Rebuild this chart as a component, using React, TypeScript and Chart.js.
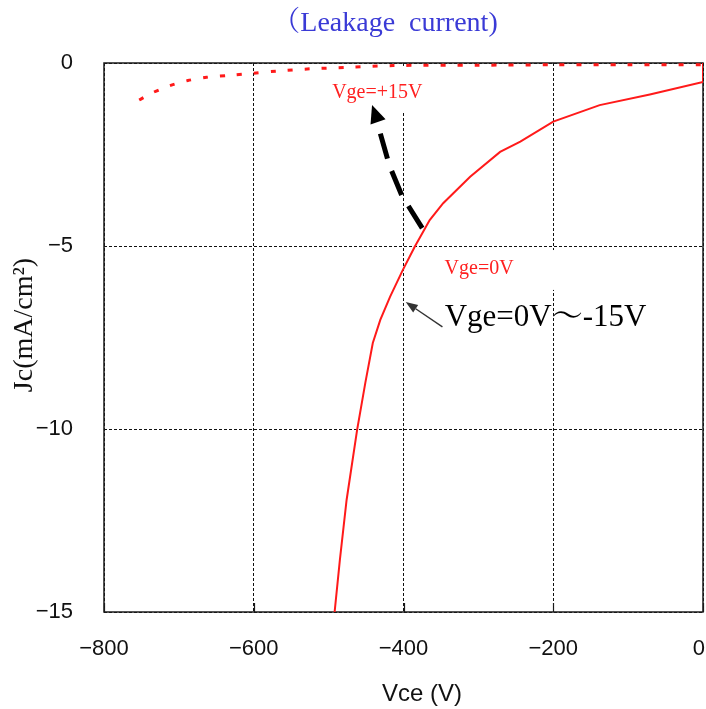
import React, { useEffect, useRef } from "react";
import { Chart, registerables } from "chart.js";

Chart.register(...registerables);

// ---- axes ----
const xTicks = [-800, -600, -400, -200, 0];
const yTicks = [0, -5, -10, -15];

// ---- Vge = 0V .. -15V curve (solid) ----
const vge0V = [0, 0, -71, -138, -200, -244, -271, -311, -347, -365, -385, -401, -418, -431, -441, -451, -462, -476, -485, -492];
const vge0Jc = [0, -0.52, -0.86, -1.15, -1.6, -2.15, -2.43, -3.11, -3.83, -4.29, -5.02, -5.66, -6.39, -7.02, -7.65, -8.74, -10.03, -11.94, -13.58, -15.0];

// ---- Vge = +15V curve (dotted) ----
const vge15V = [-753, -735, -712, -688, -663, -628, -601, -569, -525, -476, -414, -300, -200, -100, 0];
const vge15Jc = [-1.01, -0.81, -0.62, -0.48, -0.39, -0.33, -0.28, -0.22, -0.16, -0.12, -0.07, -0.06, -0.05, -0.05, -0.05];

// ---- annotation anchors (data units) ----
const sweepPathV = [-375, -402, -419, -433, -434];
const sweepPathJc = [-4.51, -3.63, -2.79, -1.78, -1.61];
const sweepTip = { v: -442, jc: -1.15 };
const pointerTail = { v: -348, jc: -7.21 };
const pointerTip = { v: -397, jc: -6.53 };

const SERIF = "'Liberation Serif', 'Times New Roman', 'Noto Serif CJK JP', 'Noto Sans CJK JP', serif";
const SANS = "'Liberation Sans', Arial, sans-serif";

const minus = (v: number) => String(v).replace("-", "\u2212");

function arrowHead(ctx: CanvasRenderingContext2D, bx: number, by: number, tx: number, ty: number, w: number) {
  const dx = tx - bx, dy = ty - by;
  const len = Math.hypot(dx, dy) || 1;
  const nx = -dy / len, ny = dx / len;
  ctx.beginPath();
  ctx.moveTo(tx, ty);
  ctx.lineTo(bx + nx * w / 2, by + ny * w / 2);
  ctx.lineTo(bx - nx * w / 2, by - ny * w / 2);
  ctx.closePath();
  ctx.fill();
}

const decor = {
  id: "decor",
  beforeDatasetsDraw(chart: any) {
    const { ctx, chartArea: a, scales } = chart;
    const x = scales.x, y = scales.y;
    ctx.save();
    // white label backgrounds hiding grid lines
    ctx.fillStyle = "#ffffff";
    const boxes = [
      { v1: -505, v2: -365, j1: -0.08, j2: -1.34 },
      { v1: -351, v2: -191, j1: -5.11, j2: -6.2 },
    ];
    for (const b of boxes) {
      const x1 = x.getPixelForValue(b.v1), x2 = x.getPixelForValue(b.v2);
      const y1 = y.getPixelForValue(b.j1), y2 = y.getPixelForValue(b.j2);
      ctx.fillRect(x1, y1, x2 - x1, y2 - y1);
    }
    // frame
    ctx.strokeStyle = "#1a1a1a";
    ctx.lineWidth = 1.5;
    ctx.strokeRect(a.left, a.top, a.right - a.left, a.bottom - a.top);
    // inner tick marks on bottom axis
    ctx.lineWidth = 1.2;
    for (const v of xTicks) {
      const px = Math.round(x.getPixelForValue(v)) + 0.5;
      ctx.beginPath();
      ctx.moveTo(px, a.bottom);
      ctx.lineTo(px, a.bottom - 9);
      ctx.stroke();
    }
    ctx.restore();
  },
  afterDatasetsDraw(chart: any) {
    const { ctx, scales } = chart;
    const x = scales.x, y = scales.y;
    const P = (v: number, j: number) => [x.getPixelForValue(v), y.getPixelForValue(j)];
    ctx.save();
    // thick dashed sweep arrow
    ctx.strokeStyle = "#000";
    ctx.fillStyle = "#000";
    ctx.lineWidth = 5;
    ctx.setLineDash([26, 13]);
    ctx.beginPath();
    sweepPathV.forEach((v, i) => {
      const [px, py] = P(v, sweepPathJc[i]);
      if (i === 0) ctx.moveTo(px, py); else ctx.lineTo(px, py);
    });
    ctx.stroke();
    ctx.setLineDash([]);
    {
      const [bx, by] = P(sweepPathV[sweepPathV.length - 1], sweepPathJc[sweepPathJc.length - 1]);
      const [tx, ty] = P(sweepTip.v, sweepTip.jc);
      arrowHead(ctx, bx, by, tx, ty, 16);
    }
    // thin pointer arrow
    {
      const [sx, sy] = P(pointerTail.v, pointerTail.jc);
      const [tx, ty] = P(pointerTip.v, pointerTip.jc);
      const dx = tx - sx, dy = ty - sy, L = Math.hypot(dx, dy);
      const bx = tx - dx / L * 12, by = ty - dy / L * 12;
      ctx.strokeStyle = "#333";
      ctx.fillStyle = "#333";
      ctx.lineWidth = 1.4;
      ctx.beginPath();
      ctx.moveTo(sx, sy);
      ctx.lineTo(bx, by);
      ctx.stroke();
      arrowHead(ctx, bx, by, tx, ty, 9);
    }
    // labels
    ctx.textBaseline = "middle";
    ctx.fillStyle = "#ff2020";
    ctx.font = `20px ${SERIF}`;
    ctx.textAlign = "center";
    {
      const [lx, ly] = P(-435, -0.82);
      ctx.fillText("Vge=+15V", lx, ly);
      const [mx, my] = P(-299, -5.63);
      ctx.fillText("Vge=0V", mx, my);
    }
    ctx.fillStyle = "#000";
    ctx.font = `31px ${SERIF}`;
    ctx.textAlign = "left";
    {
      const [lx, ly] = P(-345, -6.97);
      ctx.fillText("Vge=0V\uFF5E-15V", lx, ly);
    }
    ctx.restore();
  },
  afterDraw(chart: any) {
    const { ctx, chartArea: a, scales } = chart;
    const x = scales.x;
    ctx.save();
    // x tick labels (kept inside the canvas at the right edge)
    ctx.fillStyle = "#111";
    ctx.font = `22px ${SANS}`;
    ctx.textBaseline = "middle";
    ctx.textAlign = "center";
    for (const v of xTicks) {
      const s = minus(v);
      const w = ctx.measureText(s).width;
      let cx = x.getPixelForValue(v);
      if (cx + w / 2 > 705) cx = 705 - w / 2;
      ctx.fillText(s, cx, a.bottom + 37);
    }
    // title
    ctx.fillStyle = "#3a3ad6";
    ctx.font = `28px ${SERIF}`;
    ctx.fillText("\uFF08Leakage  current)", 385, 24);
    // x axis title
    ctx.fillStyle = "#111";
    ctx.font = `24px ${SANS}`;
    ctx.fillText("Vce (V)", 422, 694);
    // y axis title
    ctx.translate(25, 325);
    ctx.rotate(-Math.PI / 2);
    ctx.font = `28px ${SERIF}`;
    ctx.fillText("Jc(mA/cm\u00B2)", 0, 0);
    ctx.restore();
  },
};

export default function App() {
  const ref = useRef<HTMLCanvasElement>(null);
  useEffect(() => {
    document.body.style.margin = "0";
    const chart = new Chart(ref.current as HTMLCanvasElement, {
      type: "scatter",
      data: {
        datasets: [
          {
            label: "Vge=0V",
            data: vge0V.map((v, i) => ({ x: v, y: vge0Jc[i] })),
            showLine: true,
            borderColor: "#ff1a1a",
            borderWidth: 2,
            pointRadius: 0,
            tension: 0,
          },
          {
            label: "Vge=+15V",
            data: vge15V.map((v, i) => ({ x: v, y: vge15Jc[i] })),
            showLine: true,
            borderColor: "#ff1a1a",
            borderWidth: 3,
            borderDash: [5, 12],
            pointRadius: 0,
            tension: 0.3,
          },
        ],
      },
      options: {
        responsive: false,
        animation: false,
        devicePixelRatio: 1,
        layout: { padding: { top: 63, right: 3, left: 0, bottom: 0 } },
        plugins: { legend: { display: false }, tooltip: { enabled: false }, title: { display: false } },
        scales: {
          x: {
            type: "linear",
            min: xTicks[0],
            max: xTicks[xTicks.length - 1],
            afterBuildTicks: (s: any) => { s.ticks = xTicks.map((v) => ({ value: v })); },
            afterFit: (s: any) => { s.height = 97; s.paddingLeft = 0; s.paddingRight = 0; },
            grid: { color: "#111", lineWidth: 1, drawTicks: false },
            border: { display: false, dash: [3, 2] },
            ticks: { display: false },
          },
          y: {
            type: "linear",
            min: yTicks[yTicks.length - 1],
            max: yTicks[0],
            afterBuildTicks: (s: any) => { s.ticks = yTicks.map((v) => ({ value: v })); },
            afterFit: (s: any) => { s.width = 104; s.paddingTop = 0; s.paddingBottom = 0; },
            grid: { color: "#111", lineWidth: 1, drawTicks: false },
            border: { display: false, dash: [3, 2] },
            ticks: {
              padding: 31,
              color: "#111",
              font: { family: SANS, size: 22 },
              callback: (v: any) => minus(Number(v)),
            },
          },
        },
      },
      plugins: [decor],
    } as any);
    return () => chart.destroy();
  }, []);
  return <canvas ref={ref} width={706} height={709} style={{ display: "block", width: 706, height: 709 }} />;
}
